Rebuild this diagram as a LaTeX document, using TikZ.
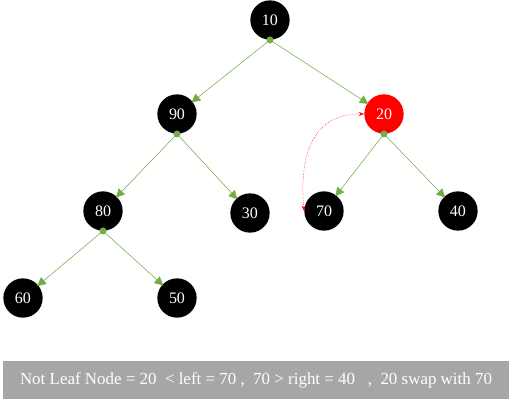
\documentclass[tikz,border=0pt]{standalone}
\usepackage{fontspec}
\setmainfont{Liberation Serif}
\usepackage{xcolor}
\usetikzlibrary{arrows.meta}

\definecolor{edgegreen}{HTML}{70AD47}
\definecolor{bargray}{HTML}{A6A6A6}

\tikzset{
    heapnode/.style={circle, fill=black, text=white, minimum size=29.5pt, inner sep=0pt, font=\fontsize{12}{14}\selectfont},
    swapnode/.style={heapnode, fill=red},
    heapedge/.style={edgegreen, -{Triangle[length=6.5pt, width=6.5pt]}, shorten >=-1pt},
    rootdot/.style={fill=edgegreen}
}

\begin{document}
\begin{tikzpicture}[x=0.75pt, y=-0.75pt]
    \useasboundingbox (0,0) rectangle (512,403);

    % Nodes of the heap
    \node[heapnode] (n10) at (270,20)  {10};
    \node[heapnode] (n90) at (177,114) {90};
    \node[swapnode] (n20) at (384,114) {20};
    \node[heapnode] (n80) at (103,211) {80};
    \node[heapnode] (n30) at (250,213) {30};
    \node[heapnode] (n70) at (324,211) {70};
    \node[heapnode] (n40) at (458,211) {40};
    \node[heapnode] (n60) at (23,298)  {60};
    \node[heapnode] (n50) at (177,298) {50};

    % Edges
    \foreach \p/\c in {n10/n90, n10/n20, n90/n80, n90/n30, n20/n70, n20/n40, n80/n60, n80/n50}
        \draw[heapedge] (\p.south) -- (\c);
    \foreach \p in {n10, n90, n20, n80}
        \fill[rootdot] (\p.south) circle (3.5);

    % Swap marker
    \draw[red, densely dotted, {Stealth[length=4pt]}-{Stealth[length=4pt]}]
        (n20.west) to[out=180, in=95, looseness=1.2] (n70.west);

    % Caption bar
    \node[fill=bargray, text=white, minimum width=379pt, minimum height=28pt, font=\fontsize{12.7}{14}\selectfont] (caption) at (256,380)
        {Not Leaf Node = 20 \ < left = 70 , \ 70 > right = 40 \ \ , \ 20 swap with 70};
\end{tikzpicture}
\end{document}
